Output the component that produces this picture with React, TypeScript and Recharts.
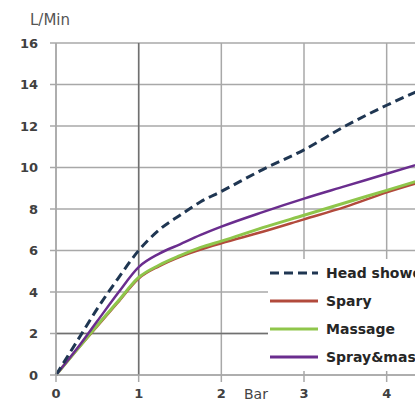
import {
  CartesianGrid,
  Legend,
  Line,
  LineChart,
  ReferenceLine,
  XAxis,
  YAxis,
} from "recharts";

// pressure in bar, flow in L/min
const pressure = [0, 0.25, 0.5, 0.75, 1, 1.25, 1.5, 1.75, 2, 2.5, 3, 3.5, 4, 4.5];
const headShower = [0, 1.6, 3.2, 4.65, 6.0, 7.0, 7.7, 8.35, 8.85, 9.9, 10.85, 12.0, 13.0, 13.9];
const spary = [0, 1.2, 2.35, 3.5, 4.65, 5.25, 5.7, 6.05, 6.35, 6.9, 7.5, 8.1, 8.8, 9.4];
const massage = [0, 1.2, 2.4, 3.55, 4.7, 5.3, 5.75, 6.15, 6.45, 7.1, 7.7, 8.3, 8.9, 9.5];
const sprayMassage = [0, 1.25, 2.6, 3.95, 5.2, 5.85, 6.3, 6.75, 7.15, 7.85, 8.5, 9.1, 9.7, 10.3];

const xTicks = [0, 1, 2, 3, 4];
const yTicks = [0, 2, 4, 6, 8, 10, 12, 14, 16];

const series = [
  { key: "head", name: "Head shower", values: headShower, color: "#1f3652", width: 3, dash: "9 5" },
  { key: "spary", name: "Spary", values: spary, color: "#b24a3c", width: 2.5 },
  { key: "massage", name: "Massage", values: massage, color: "#8fc64b", width: 3 },
  { key: "sprayMassage", name: "Spray&massage", values: sprayMassage, color: "#6a2d8e", width: 2.5 },
];

const drawOrder = ["spary", "massage", "sprayMassage", "head"];

const rows = pressure.map((p, i) => {
  const row: Record<string, number> = { bar: p };
  series.forEach((s) => (row[s.key] = s.values[i]));
  return row;
});

const grid = "#a8a8a8";
const tickFont = { fontSize: 13, fontWeight: 700, fill: "#404040" };

function ShowerLegend() {
  return (
    <div style={{ background: "#fff", paddingRight: 20 }}>
      {series.map((s) => (
        <div key={s.key} style={{ display: "flex", alignItems: "center", height: 28 }}>
          <svg width={52} height={10}>
            <line
              x1={2}
              y1={5}
              x2={50}
              y2={5}
              stroke={s.color}
              strokeWidth={3}
              strokeDasharray={s.dash}
            />
          </svg>
          <span
            style={{
              marginLeft: 6,
              fontSize: 14,
              fontWeight: 700,
              color: "#262626",
              whiteSpace: "nowrap",
            }}
          >
            {s.name}
          </span>
        </div>
      ))}
    </div>
  );
}

export default function App() {
  return (
    <div
      style={{
        position: "fixed",
        left: 0,
        top: 0,
        width: 415,
        height: 405,
        overflow: "hidden",
        background: "#fff",
        fontFamily: "DejaVu Sans, sans-serif",
      }}
    >
      <LineChart
        width={428}
        height={405}
        data={rows}
        margin={{ top: 43, right: 0, bottom: 0, left: 0 }}
      >
        <CartesianGrid stroke={grid} strokeWidth={1.5} />
        <XAxis
          dataKey="bar"
          type="number"
          domain={[0, 4.5]}
          ticks={xTicks}
          height={30}
          tick={tickFont}
          tickSize={7}
          tickMargin={7}
          stroke={grid}
          strokeWidth={1.5}
        />
        <YAxis
          type="number"
          domain={[0, 16]}
          ticks={yTicks}
          width={56}
          tick={tickFont}
          tickSize={6}
          tickMargin={12}
          stroke={grid}
          strokeWidth={1.5}
        />
        <ReferenceLine x={1} stroke="#707070" strokeWidth={1.5} />
        <ReferenceLine y={2} stroke="#707070" strokeWidth={1.5} />
        {drawOrder.map((k) => {
          const s = series.find((d) => d.key === k)!;
          return (
            <Line
              key={s.key}
              dataKey={s.key}
              name={s.name}
              type="monotone"
              stroke={s.color}
              strokeWidth={s.width}
              strokeDasharray={s.dash}
              dot={false}
              isAnimationActive={false}
            />
          );
        })}
        <Legend
          layout="vertical"
          align="center"
          verticalAlign="middle"
          content={() => <ShowerLegend />}
          wrapperStyle={{ left: 268, top: 259, width: 220 }}
        />
      </LineChart>
      <div style={{ position: "absolute", left: 30, top: 11, fontSize: 15, color: "#555" }}>
        L/Min
      </div>
      <div style={{ position: "absolute", left: 244, top: 386, fontSize: 14, color: "#444" }}>
        Bar
      </div>
    </div>
  );
}
